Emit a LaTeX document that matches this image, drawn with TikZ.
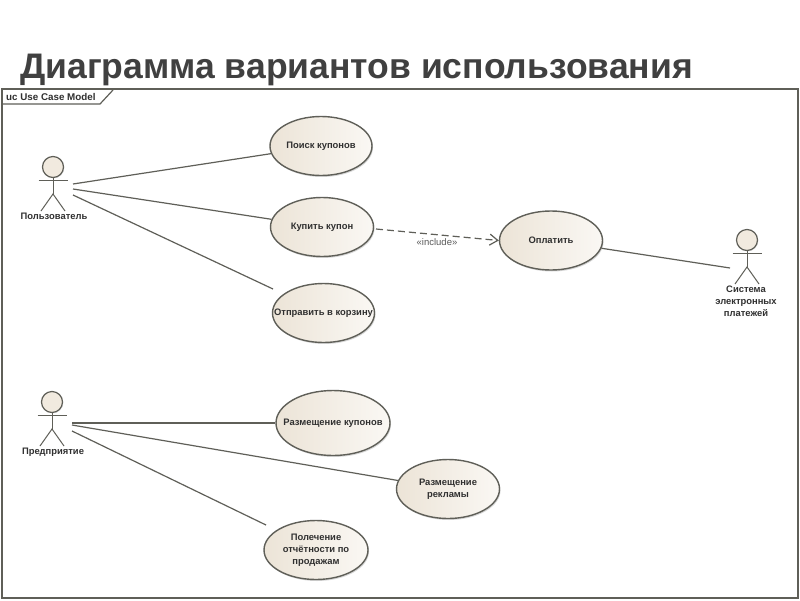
\documentclass[tikz,border=0pt]{standalone}
\usepackage{fontspec}
\setmainfont{Liberation Sans}
\usetikzlibrary{shadows,arrows.meta,shapes.geometric}
\definecolor{ucfill}{HTML}{F1EADF}
\definecolor{ucfillb}{HTML}{ECE4D7}
\definecolor{ucline}{HTML}{5F5F58}
\definecolor{uctext}{HTML}{303030}
\tikzset{
 usecase/.style={ellipse,draw=ucline,line width=1.4pt,left color=ucfillb,right color=white!65!ucfill,
   drop shadow={shadow xshift=1pt,shadow yshift=-1.5pt,fill=black!30}},
 uclabel/.style={font=\bfseries\fontsize{9.4}{11.8}\selectfont,text=uctext,align=center,inner sep=0pt},
 assoc/.style={draw=ucline,line width=1.2pt},
 limb/.style={draw=ucline,line width=1pt},
 head/.style={circle,draw=ucline,line width=1.2pt,fill=ucfill,minimum size=21pt,inner sep=0pt,
   drop shadow={shadow xshift=0.8pt,shadow yshift=-0.8pt,fill=black!25}},
}
\newcommand{\stickman}[3]{% name, x, y of head centre
 \node[head] (#1) at (#2,#3) {};
 \draw[limb] (#2-14.5,#3+13) -- (#2+14.5,#3+13);
 \coordinate (#1hip) at (#2,#3+27);
 \draw[limb] (#1.south) -- (#1hip);
 \draw[limb] (#2-12,#3+44) -- (#1hip) -- (#2+12,#3+44);
}
\begin{document}
\begin{tikzpicture}[x=1pt,y=-1pt]
\useasboundingbox (0,0) rectangle (800,600);
\fill[white] (0,0) rectangle (800,600);
\node[anchor=base west,inner sep=0pt,font=\bfseries\fontsize{35.5}{40}\selectfont,text=black!75] (title) at (20,78) {Диаграмма вариантов использования};
% frame
\draw[draw=ucline,line width=1.3pt] (2,89) rectangle (798,598);
\draw[draw=ucline,line width=1.2pt] (2,104) -- (100,104) -- (113,90);
\node[anchor=west,inner sep=0pt,font=\bfseries\fontsize{9.8}{11}\selectfont,text=uctext] (frame) at (6,97) {uc Use Case Model};
% actors
\stickman{user}{53}{167}
\node[uclabel] (userl) at (54,216) {Пользователь};
\stickman{firm}{52}{402}
\node[uclabel] (firml) at (53,452) {Предприятие};
\stickman{pay}{747}{240}
\node[uclabel] (payl) at (746,301) {Система\\электронных\\платежей};
% use cases
\node[usecase,minimum width=102pt,minimum height=59pt] (u1) at (321,146) {};
\node[uclabel] at (u1) {Поиск купонов};
\node[usecase,minimum width=103pt,minimum height=59pt] (u2) at (322,227) {};
\node[uclabel] at (u2) {Купить купон};
\node[usecase,minimum width=102pt,minimum height=59pt] (u3) at (323.5,313) {};
\node[uclabel] at (u3) {Отправить в корзину};
\node[usecase,minimum width=103pt,minimum height=59pt] (u4) at (551,240.5) {};
\node[uclabel] at (u4) {Оплатить};
\node[usecase,minimum width=114pt,minimum height=65pt] (u5) at (333,423) {};
\node[uclabel] at (u5) {Размещение купонов};
\node[usecase,minimum width=103pt,minimum height=59pt] (u6) at (448,489) {};
\node[uclabel] at (u6) {Размещение\\рекламы};
\node[usecase,minimum width=104pt,minimum height=59pt] (u7) at (316,550) {};
\node[uclabel] at (u7) {Полечение\\отчётности по\\продажам};
% free connector ends near actors
\coordinate (a1) at (73,184);
\coordinate (a2) at (73,189);
\coordinate (a3) at (73,195);
\coordinate (b1) at (72,423);
\coordinate (b2) at (72,425);
\coordinate (b3) at (72,431);
\coordinate (c1) at (730,268);
\coordinate (c2) at (266,525);
\coordinate (c3) at (273,289);
\coordinate (d) at (376,229);
\draw[assoc] (a1) -- (u1);
\draw[assoc] (a2) -- (u2);
\draw[assoc] (a3) -- (c3);
\draw[assoc] (b1) -- (u5);
\draw[assoc] (b2) -- (u6);
\draw[assoc] (b3) -- (c2);
\draw[assoc] (u4) -- (c1);
\draw[assoc,dash pattern=on 7pt off 4pt,-{Straight Barb[length=8pt,width=11pt]}] (d) -- (u4.west);
\node[font=\fontsize{9.5}{11}\selectfont,text=black!65,inner sep=0pt] (inc) at (437,242) {«include»};
\end{tikzpicture}
\end{document}
